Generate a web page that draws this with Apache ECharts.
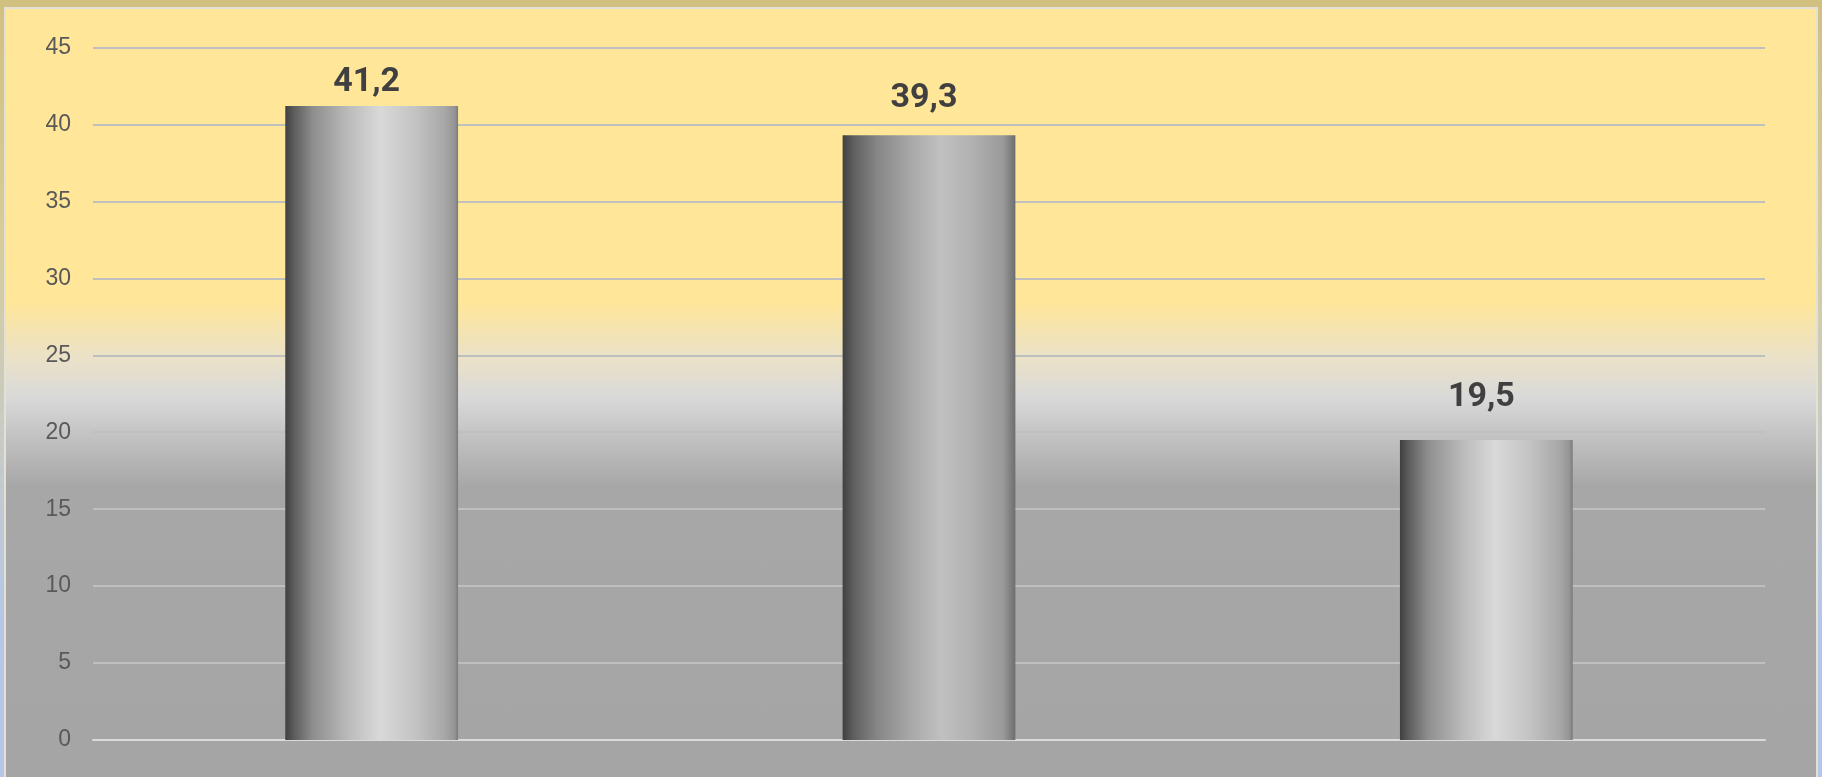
<!DOCTYPE html>
<html>
<head>
<meta charset="utf-8">
<script src="https://cdn.jsdelivr.net/npm/echarts@6/dist/echarts.min.js"></script>
<style>
  html, body {
    margin: 0;
    padding: 0;
    width: 1822px;
    height: 777px;
    overflow: hidden;
  }
  body {
    background: linear-gradient(180deg, #d1c080 0%, #d6cc98 30%, #c9cbc4 55%, #b4c7e7 80%, #b4c7e7 100%);
  }
  .frame {
    position: absolute;
    left: 4px;
    top: 7px;
    width: 1810px;
    height: 770px;
    border: 2px solid #e3e1d6;
    border-bottom: none;
    /* yellow top fading to grey, like the excel plot area */
    background: linear-gradient(180deg, #ffe699 0%, #ffe699 38%, #ebe2c6 45%, #d9d9d9 50.5%, #c0c0c0 56%, #a7a7a7 62%, #a5a5a5 100%);
  }
  #barChart {
    width: 1810px;
    height: 770px;
  }
</style>
</head>
<body>
<div class="frame">
  <div id="barChart"></div>
</div>
<script>
// data
const categories = ['', '', '']
const values = [41.2, 39.3, 19.5]
const labelGap = [6, 20, 25]   // label distance above each bar
const yTicks = { min: 0, max: 45, interval: 5 }

// metallic cylinder look
const brightBar = new echarts.graphic.LinearGradient(0, 0, 1, 0, [
  { offset: 0, color: '#404040' },
  { offset: 0.05, color: '#5c5c5c' },
  { offset: 0.16, color: '#8e8e8e' },
  { offset: 0.36, color: '#bababa' },
  { offset: 0.55, color: '#d9d9d9' },
  { offset: 0.76, color: '#c2c2c2' },
  { offset: 0.92, color: '#a8a8a8' },
  { offset: 0.98, color: '#959595' },
  { offset: 1, color: '#7a7a7a' },
])
const dullBar = new echarts.graphic.LinearGradient(0, 0, 1, 0, [
  { offset: 0, color: '#404040' },
  { offset: 0.06, color: '#5e5e5e' },
  { offset: 0.2, color: '#868686' },
  { offset: 0.4, color: '#a9a9a9' },
  { offset: 0.57, color: '#c0c0c0' },
  { offset: 0.76, color: '#b0b0b0' },
  { offset: 0.93, color: '#999999' },
  { offset: 1, color: '#6e6e6e' },
])
const barFills = [brightBar, dullBar, brightBar]

const option = {
  backgroundColor: 'transparent',
  animation: false,
  grid: {
    left: 87,
    right: 51,
    top: 38.5,
    bottom: 39,
  },
  xAxis: {
    type: 'category',
    data: categories,
    axisLine: {
      show: true,
      lineStyle: {
        color: '#dadada',
        width: 2,
      },
    },
    axisTick: {
      show: false,
    },
    axisLabel: {
      show: false,
    },
  },
  yAxis: {
    type: 'value',
    min: yTicks.min,
    max: yTicks.max,
    interval: yTicks.interval,
    axisLine: {
      show: false,
    },
    axisTick: {
      show: false,
    },
    axisLabel: {
      color: '#595959',
      fontSize: 23,
      fontFamily: 'Liberation Sans, Arial, sans-serif',
      margin: 22,
    },
    splitLine: {
      show: true,
      lineStyle: {
        color: '#bfbfbf',
        width: 2,
      },
    },
  },
  series: [
    {
      type: 'bar',
      barWidth: '31%',
      data: values.map((v, i) => ({
        value: v,
        itemStyle: {
          color: barFills[i],
        },
        label: {
          distance: labelGap[i],
        },
      })),
      label: {
        show: true,
        position: 'top',
        offset: [-5, 0],
        color: '#404040',
        fontSize: 34,
        fontWeight: 'bold',
        fontFamily: 'Roboto, "Liberation Sans", sans-serif',
        formatter: (p) => String(p.value).replace('.', ','),
      },
    },
  ],
}

const initEcharts = () => {
  const myChart = echarts.init(document.getElementById('barChart'), null, { renderer: 'canvas' })
  myChart.setOption(option)
}
initEcharts()
</script>
</body>
</html>
